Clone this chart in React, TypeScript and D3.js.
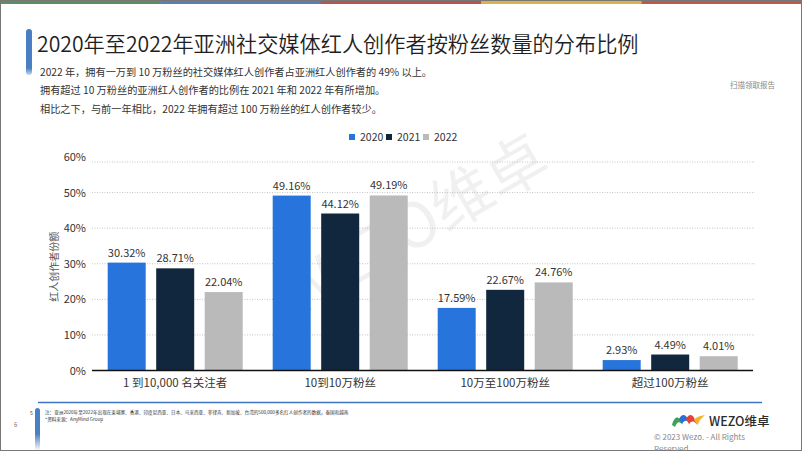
import React from "react";
import * as d3 from "d3";

const categories = ["1 到10,000 名关注者", "10到10万粉丝", "10万至100万粉丝", "超过100万粉丝"];
const years = ["2020", "2021", "2022"];
const values2020 = [30.32, 49.16, 17.59, 2.93];
const values2021 = [28.71, 44.12, 22.67, 4.49];
const values2022 = [22.04, 49.19, 24.76, 4.01];
const yTicks = [0, 10, 20, 30, 40, 50, 60];
const colors = ["#2775dc", "#10273d", "#bababa"];
const title = "2020年至2022年亚洲社交媒体红人创作者按粉丝数量的分布比例";
const subtitle = [
  "2022 年，拥有一万到 10 万粉丝的社交媒体红人创作者占亚洲红人创作者的 49% 以上。",
  "拥有超过 10 万粉丝的亚洲红人创作者的比例在 2021 年和 2022 年有所增加。",
  "相比之下，与前一年相比，2022 年拥有超过 100 万粉丝的红人创作者较少。",
];
const footnote1 = "注：亚洲2020年至2022年出现在柬埔寨、香港、印度尼西亚、日本、马来西亚、菲律宾、新加坡、台湾的500,000多名红人创作者的数据，泰国和越南";
const footnote2 = "*资料来源：AnyMind Group";

const W = 802;
const H = 451;
const FONT = "'Noto Sans CJK SC', 'Noto Sans', sans-serif";

export default function App() {
  const series = [values2020, values2021, values2022];
  const x0 = d3.scaleBand<string>().domain(categories).range([92.7, 752.7]).padding(0);
  const x1 = d3
    .scaleBand<string>()
    .domain(years)
    .range([0, x0.bandwidth()])
    .paddingInner(0.2165)
    .paddingOuter(0.309);
  const y = d3.scaleLinear().domain([0, 60]).range([370.5, 157]);

  const topBar = ["#5c8f60", "#5a7fb2", "#b9554f", "#d8b24c", "#bb5a4c"];

  return (
    <svg
      width={W}
      height={H}
      viewBox={`0 0 ${W} ${H}`}
      style={{ position: "absolute", left: 0, top: 0, background: "#fff" }}
      fontFamily={FONT}
    >
      <defs>
        <linearGradient id="accent" x1="0" y1="0" x2="0" y2="1">
          <stop offset="0" stopColor="#4a7fc3" />
          <stop offset="0.85" stopColor="#4a7fc3" />
          <stop offset="1" stopColor="#4a7fc3" stopOpacity="0.3" />
        </linearGradient>
        <linearGradient id="accent2" x1="0" y1="0" x2="0" y2="1">
          <stop offset="0" stopColor="#4a7fc3" />
          <stop offset="0.6" stopColor="#4a7fc3" />
          <stop offset="1" stopColor="#4a7fc3" stopOpacity="0" />
        </linearGradient>
      </defs>
      <rect x={0} y={0} width={W} height={H} fill="#fff" />
      {topBar.map((c, i) => (
        <rect key={i} x={(i * W) / 5} y={0} width={W / 5 + 0.5} height={4} fill={c} />
      ))}
      <rect x={0.5} y={0.5} width={W - 1} height={H - 1} fill="none" stroke="#777" strokeWidth={1} />

      {/* watermark */}
      <text
        transform="translate(425,245) rotate(-30)"
        textAnchor="middle"
        fontSize={62}
        fill="#000"
        fillOpacity={0.06}
        fontFamily={FONT}
      >
        WEZO维卓
      </text>

      {/* title */}
      <rect x={26} y={29} width={6} height={46} rx={3} fill="url(#accent)" />
      <text x={37} y={52} fontSize={21.2} fill="#1f1f1f" fontWeight={350}>
        {title}
      </text>
      {subtitle.map((s, i) => (
        <text key={i} x={40} y={75.5 + i * 18.5} fontSize={10.2} fill="#333">
          {s}
        </text>
      ))}
      <text x={775} y={88} textAnchor="end" fontSize={7.5} fill="#888">
        扫描领取报告
      </text>

      {/* legend */}
      {years.map((yr, i) => (
        <g key={yr} transform={`translate(${349 + i * 37},137)`}>
          <rect x={0} y={-3} width={6} height={6} fill={colors[i]} />
          <text x={11} y={4} fontSize={10.5} fill="#333">
            {yr}
          </text>
        </g>
      ))}

      {/* grid */}
      {yTicks.map((t) => (
        <g key={t}>
          {t > 0 && (
            <line
              x1={92}
              x2={755}
              y1={t === 60 ? y(t) + 5 : y(t)}
              y2={t === 60 ? y(t) + 5 : y(t)}
              stroke="#b5b5b5"
              strokeWidth={0.8}
              strokeDasharray="1,1.5"
            />
          )}
          <text x={86} y={y(t) + 4} textAnchor="end" fontSize={11} fill="#333">
            {t}%
          </text>
        </g>
      ))}
      <text
        transform={`translate(58,${(y(0) + y(60)) / 2 + 3}) rotate(-90)`}
        textAnchor="middle"
        fontSize={10}
        fill="#555"
      >
        红人创作者份额
      </text>

      {/* bars */}
      {categories.map((c, ci) => (
        <g key={c} transform={`translate(${x0(c)},0)`}>
          {years.map((yr, yi) => {
            const v = series[yi][ci];
            const bx = x1(yr) as number;
            return (
              <g key={yr}>
                <rect
                  x={bx}
                  y={y(v)}
                  width={x1.bandwidth()}
                  height={y(0) - y(v)}
                  fill={colors[yi]}
                />
                <text
                  x={bx + x1.bandwidth() / 2}
                  y={y(v) - 6}
                  textAnchor="middle"
                  fontSize={11}
                  fill="#333"
                >
                  {v.toFixed(2)}%
                </text>
              </g>
            );
          })}
          <text x={x0.bandwidth() / 2} y={387} textAnchor="middle" fontSize={11.5} fill="#333">
            {c}
          </text>
        </g>
      ))}
      <line x1={92} x2={753} y1={y(0)} y2={y(0)} stroke="#111" strokeWidth={1.5} />

      {/* footer */}
      <line x1={38} x2={762} y1={402.5} y2={402.5} stroke="#3f76c0" strokeWidth={1.3} />
      <rect x={35} y={408} width={5} height={43} rx={2.5} fill="url(#accent2)" />
      <text x={30} y={415} fontSize={5} fill="#333">5</text>
      <text x={14} y={427} fontSize={6} fill="#777">6</text>
      <text x={45} y={414} fontSize={4.6} fill="#333">
        {footnote1}
      </text>
      <text x={45} y={421} fontSize={4.6} fill="#333">
        {footnote2}
      </text>

      {/* logo */}
      <g transform="translate(672,413)">
        <path d="M0,12 C2,4 6,2 9,8 L11,12 C8,8 5,8 3,14 Z" fill="#3aa35a" />
        <path d="M7,6 C10,0 14,1 16,7 L19,13 C16,7 13,6 10,11 Z" fill="#2d6fd6" />
        <path d="M14,6 C17,0 21,1 23,7 L26,13 C23,8 20,7 17,11 Z" fill="#e2443a" />
        <path d="M22,7 C25,3 29,3 33,2 C30,5 27,7 26,12 Z" fill="#f0b429" />
      </g>
      <text x={709} y={426} fontSize={12.5} fill="#2b2b2b" fontWeight={500}>
        WEZO维卓
      </text>
      <text x={654} y={440} fontSize={8} fill="#888">
        © 2023 Wezo. - All Rights
      </text>
      <text x={654} y={452} fontSize={8} fill="#888">
        Reserved
      </text>
    </svg>
  );
}
